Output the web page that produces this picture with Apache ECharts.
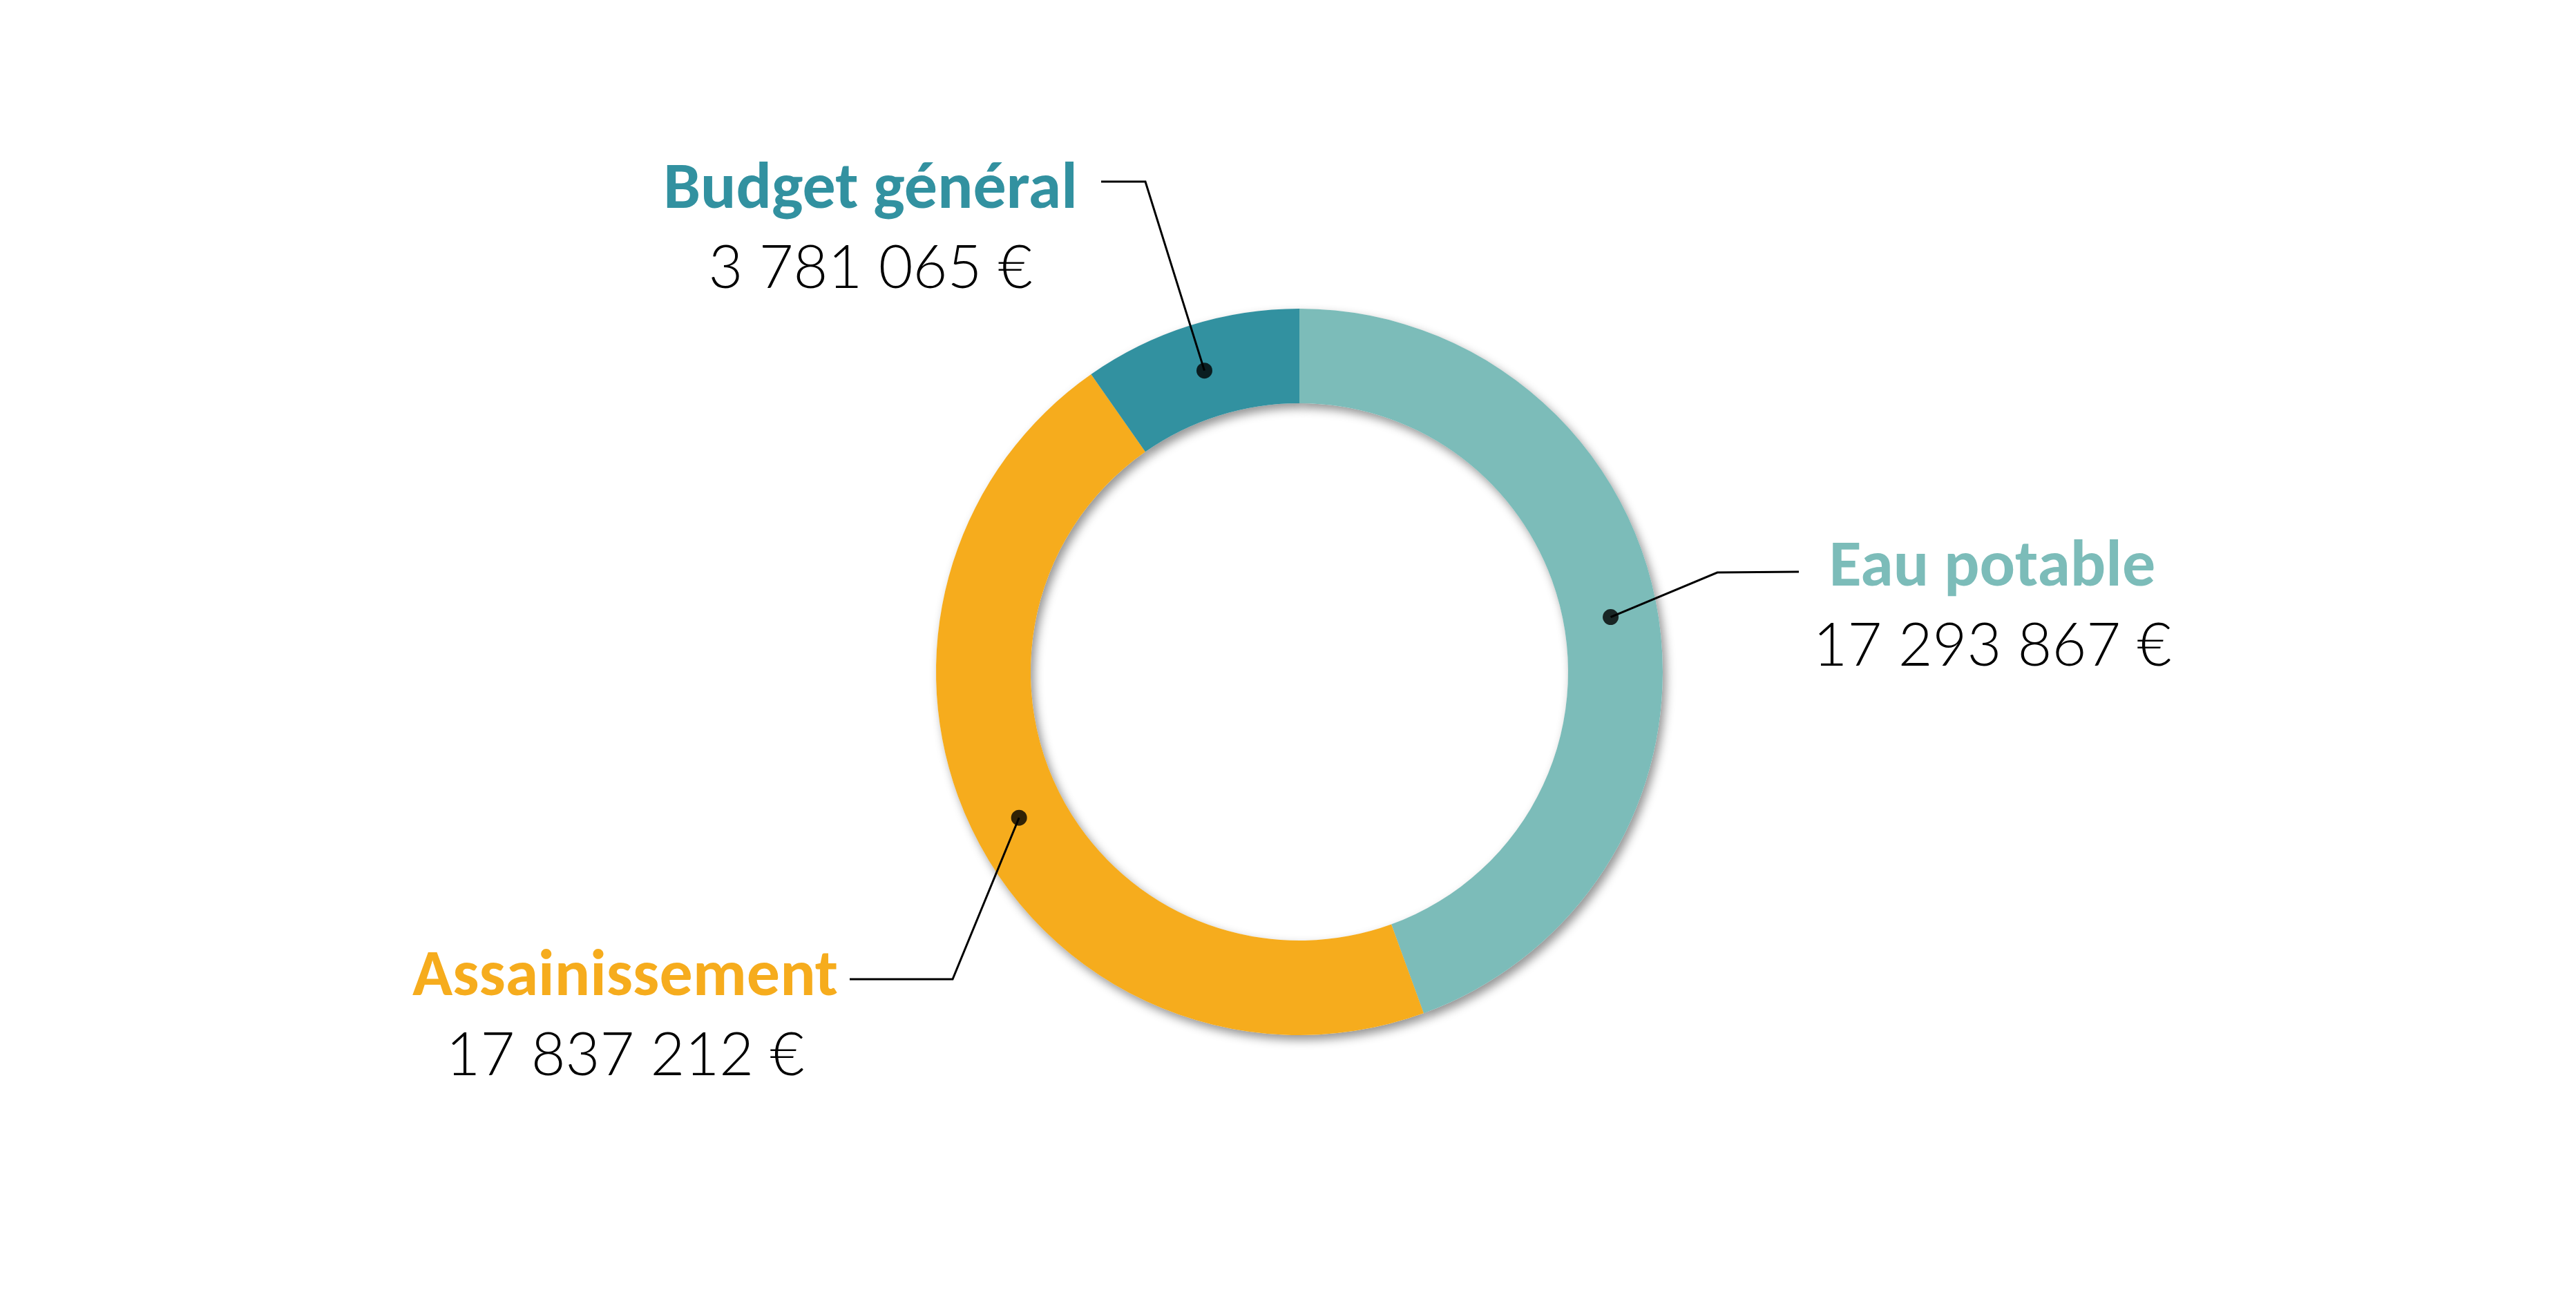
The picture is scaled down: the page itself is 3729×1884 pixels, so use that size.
<!DOCTYPE html>
<html><head><meta charset="utf-8">
<script src="https://cdn.jsdelivr.net/npm/echarts@6/dist/echarts.min.js"></script>
<style>html,body{margin:0;padding:0;background:#fff}#c{width:3729px;height:1884px}</style>
</head><body><div id="c"></div>
<script>
// ---- data ----
const categories = ['Eau potable', 'Assainissement', 'Budget général'];
const amounts = [17293867, 17837212, 3781065];
const colors = ['#7CBCB9', '#F6AC1D', '#3291A0'];

// ---- layout ----
const CX = 1881, CY = 973, R_OUT = 526, R_IN = 389;
const R_MID = (R_OUT + R_IN) / 2;
const LINE_H = 117;
const FONT = 'Carlito, Calibri, Lato, sans-serif';
const FONT_LIGHT = '"Calibri Light", "Lato Light", "Open Sans Light", "Roboto Light", Lato, sans-serif';
// label placement relative to ring centre (text centre x, name line centre y, leader bend, leader end)
const labelPlacement = [
  { cx: 1003, ny: -149, bend: [605, -144], end: [723, -145] },
  { cx: -976, ny: 444, bend: [-502, 445], end: [-651, 445] },
  { cx: -621, ny: -696, bend: [-223, -710], end: [-287, -710] }
];

function fmt(v) { return String(v).replace(/\B(?=(\d{3})+(?!\d))/g, ' ') + ' €'; }

const total = amounts.reduce((a, b) => a + b, 0);
let acc = 0;
const dotData = amounts.map(v => { const m = acc + v / 2; acc += v; return [R_MID / R_OUT, m]; });

const rich = { v: { fontFamily: FONT_LIGHT, fontWeight: 300, fontSize: 86, color: '#000', lineHeight: 107, align: 'center' } };
colors.forEach((c, i) => { rich['n' + i] = { fontFamily: FONT, fontWeight: 'bold', fontSize: 96, color: c, lineHeight: LINE_H, align: 'center' }; });

const seriesData = categories.map((n, i) => ({ name: n, value: amounts[i] }));

const chart = echarts.init(document.getElementById('c'), null, { renderer: 'canvas' });
chart.setOption({
  animation: false,
  backgroundColor: '#fff',
  polar: { center: [CX, CY], radius: R_OUT },
  angleAxis: { type: 'value', min: 0, max: total, startAngle: 90, clockwise: true, show: false },
  radiusAxis: { type: 'value', min: 0, max: 1, show: false },
  series: [
    { // soft shadow under the ring
      type: 'pie', z: 1, silent: true, center: [CX, CY], radius: [R_IN, R_OUT],
      startAngle: 90, clockwise: true,
      label: { show: false }, labelLine: { show: false }, emphasis: { disabled: true },
      itemStyle: { color: '#fff', shadowBlur: 14, shadowColor: 'rgba(0,0,0,0.42)', shadowOffsetX: 5, shadowOffsetY: 7 },
      data: seriesData
    },
    { // the ring
      type: 'pie', z: 2, silent: true, center: [CX, CY], radius: [R_IN, R_OUT],
      startAngle: 90, clockwise: true,
      label: { show: false }, labelLine: { show: false }, emphasis: { disabled: true },
      data: categories.map((n, i) => ({ name: n, value: amounts[i], itemStyle: { color: colors[i] } }))
    },
    { // labels + leader lines, anchored on the middle of the ring
      type: 'pie', z: 4, silent: true, center: [CX, CY], radius: [R_IN, R_MID],
      startAngle: 90, clockwise: true, avoidLabelOverlap: false,
      emphasis: { disabled: true },
      itemStyle: { color: 'rgba(0,0,0,0)' },
      data: seriesData,
      label: {
        show: true, position: 'outside',
        formatter: p => '{n' + p.dataIndex + '|' + p.name + '}\n{v|' + fmt(p.value) + '}',
        rich: rich
      },
      labelLine: { show: true, length: 40, length2: 40, lineStyle: { color: '#000', width: 3 } },
      labelLayout: function (p) {
        const s = labelPlacement[p.dataIndex];
        const out = { x: CX + s.cx, y: CY + s.ny - LINE_H / 2, align: 'center', verticalAlign: 'top' };
        const pts = p.labelLinePoints;
        if (pts && pts[0]) {
          out.labelLinePoints = [pts[0], [CX + s.bend[0], CY + s.bend[1]], [CX + s.end[0], CY + s.end[1]]];
        }
        return out;
      }
    },
    {
      type: 'scatter', coordinateSystem: 'polar', z: 5, silent: true,
      symbol: 'circle', symbolSize: 23, itemStyle: { color: '#000' },
      data: dotData
    }
  ]
});
</script>
</body></html>
